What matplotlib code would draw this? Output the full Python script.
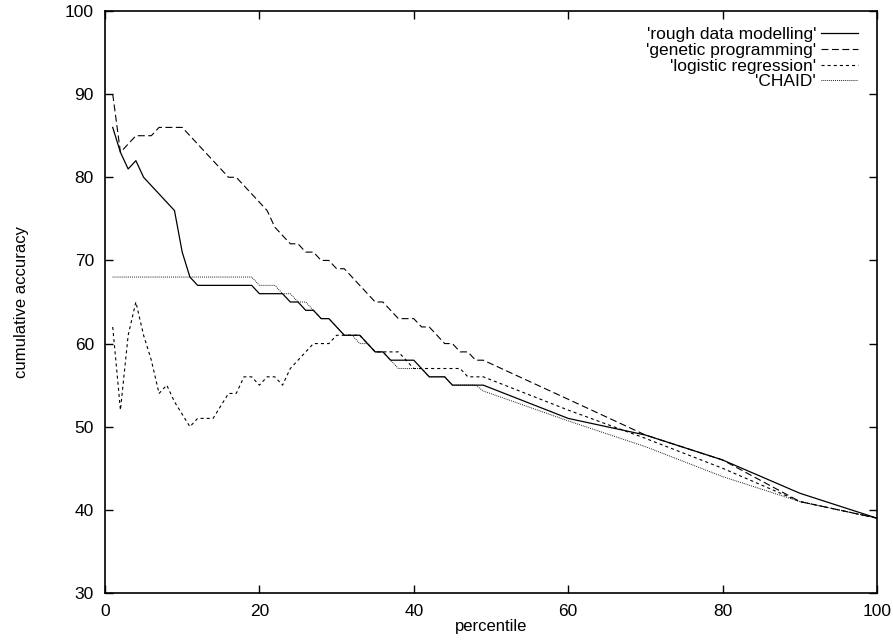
import matplotlib
matplotlib.use('Agg')
import matplotlib.pyplot as plt

plt.rcParams['font.family'] = ['Liberation Sans', 'DejaVu Sans']
plt.rcParams['lines.scale_dashes'] = False

# percentiles: 1..49 then every 10
pct = list(range(1, 50)) + [60, 70, 80, 90, 100]

rough = [86, 83, 81, 82, 80, 79, 78, 77, 76, 71,
         68, 67, 67, 67, 67, 67, 67, 67, 67, 66,
         66, 66, 66, 65, 65, 64, 64, 63, 63, 62,
         61, 61, 61, 60, 59, 59, 58, 58, 58, 58,
         57, 56, 56, 56, 55, 55, 55, 55, 55,
         51, 49, 46, 42, 39]

genetic = [90, 83, 84, 85, 85, 85, 86, 86, 86, 86,
           85, 84, 83, 82, 81, 80, 80, 79, 78, 77,
           76, 74, 73, 72, 72, 71, 71, 70, 70, 69,
           69, 68, 67, 66, 65, 65, 64, 63, 63, 63,
           62, 62, 61, 60, 60, 59, 59, 58, 58,
           53.3, 49, 46, 41, 39]

logistic = [62, 52, 61, 65, 61, 58, 54, 55, 53, 51.5,
            50, 51, 51, 51, 52.5, 54, 54, 56, 56, 55,
            56, 56, 55, 57, 58, 59, 60, 60, 60, 61,
            61, 61, 61, 60, 59, 59, 59, 59, 58, 57,
            57, 57, 57, 57, 57, 57, 56, 56, 56,
            52, 48.6, 45, 41, 39]

chaid = [68, 68, 68, 68, 68, 68, 68, 68, 68, 68,
         68, 68, 68, 68, 68, 68, 68, 68, 68, 67,
         67, 67, 66, 66, 65, 65, 64, 63, 63, 62,
         61, 61, 60, 60, 59, 59, 58, 57, 57, 57,
         57, 56, 56, 56, 55, 55, 55, 55, 54.3,
         50.7, 47.6, 44, 41, 39]

labels = ["'rough data modelling'", "'genetic programming'",
          "'logistic regression'", "'CHAID'"]

fig = plt.figure(figsize=(8.93, 6.40), dpi=100)
ax = fig.add_axes([105/893, (640-593)/640, 772/893, 582/640])

ax.plot(pct, rough, color='black', lw=0.9, label=labels[0])
ax.plot(pct, genetic, color='black', lw=0.8, dashes=(5, 2.5), label=labels[1])
ax.plot(pct, logistic, color='black', lw=0.8, dashes=(2.2, 2.2), label=labels[2])
ax.plot(pct, chaid, color='black', lw=0.7, dashes=(0.6, 0.8), label=labels[3])

ax.set_xlim(0, 100)
ax.set_ylim(30, 100)
ax.set_xticks(range(0, 101, 20))
ax.set_yticks(range(30, 101, 10))
ax.tick_params(direction='in', length=5.5, width=1, top=True, right=True,
               labelsize=12.5, pad=8)
for s in ax.spines.values():
    s.set_linewidth(1.2)

ax.set_xlabel('percentile', fontsize=12, labelpad=0)
ax.set_ylabel('cumulative accuracy', fontsize=12, labelpad=26)

leg = ax.legend(loc='upper right', bbox_to_anchor=(0.975, 0.972),
                frameon=False, markerfirst=False, fontsize=12.5,
                handlelength=2.1, handletextpad=0.3, labelspacing=0.03,
                borderaxespad=0, borderpad=0)

fig.savefig('out.png', dpi=100)
